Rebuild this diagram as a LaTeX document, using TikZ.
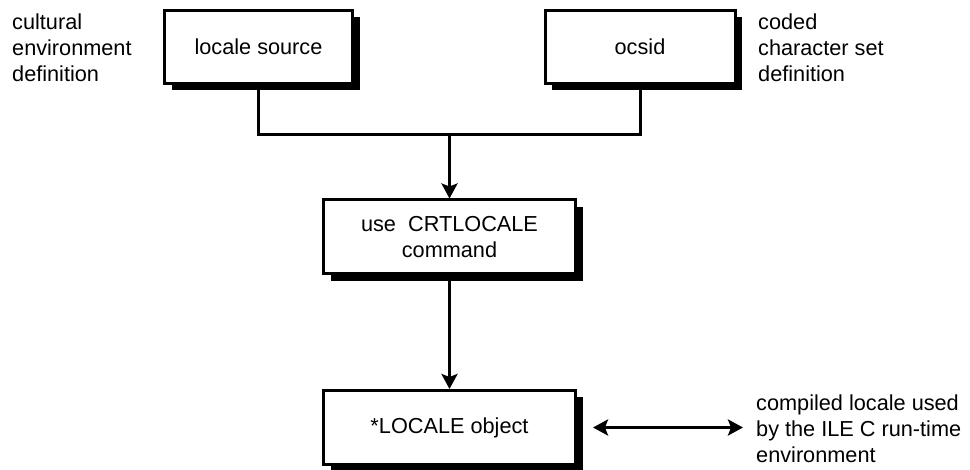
\documentclass[tikz,border=0pt]{standalone}
\usepackage{fontspec}
\setmainfont{Liberation Sans}
\usepackage{tikz}
\usetikzlibrary{arrows.meta,positioning,shadows,calc}

\begin{document}
\begin{tikzpicture}[x=1pt,y=-1pt,
  box/.style={rectangle,draw=black,fill=white,line width=3pt,inner sep=0pt,
              align=center,font=\fontsize{21.7}{26}\selectfont,
              drop shadow={shadow xshift=7pt,shadow yshift=-7pt,fill=black,opacity=1}},
  note/.style={anchor=north west,inner sep=0pt,align=left,
               font=\fontsize{21.7}{26}\selectfont},
  conn/.style={line width=3pt},
  arr/.style={-{Stealth[length=15pt,width=16pt,inset=3pt]},line width=3pt},
  arrb/.style={{Stealth[length=15pt,width=16pt,inset=3pt]}-{Stealth[length=15pt,width=16pt,inset=3pt]},line width=3pt}
]
  \useasboundingbox (0,0) rectangle (970,470);
  \node[box,minimum width=188pt,minimum height=73pt](src) at (258.5,47) {locale source};
  \node[box,minimum width=190pt,minimum height=73pt](ocs) at (640,47)   {ocsid};
  \node[box,minimum width=252pt,minimum height=74pt](crt) at (449.5,237) {use~~CRTLOCALE\\command};
  \node[box,minimum width=252pt,minimum height=74pt](obj) at (449.5,427.5) {*LOCALE object};
  \node[note](cult) at (12,14)  {cultural\\environment\\definition};
  \node[note](ccs)  at (758,14) {coded\\character set\\definition};
  \node[note](run)  at (756,395){compiled locale used\\by the ILE C run-time\\environment};
  % join of the two sources
  \coordinate (jn) at (449.5,135);
  \draw[conn](src.south)|-(jn)-|(ocs.south);
  \draw[arr](jn)--(crt.north);
  \draw[arr](crt.south)--(obj.north);
  \draw[arrb]($(obj.east)+(16,0)$)--($(obj.east -| run.west)+(-13,0)$);
\end{tikzpicture}
\end{document}
